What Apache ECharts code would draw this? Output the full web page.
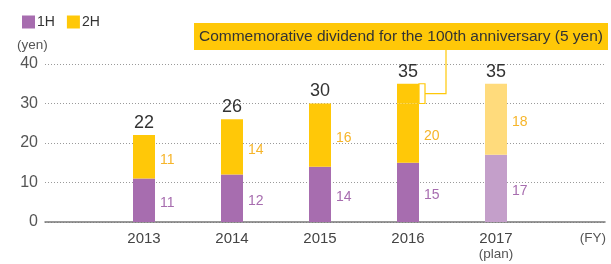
<!DOCTYPE html>
<html>
<head>
    <meta charset="utf-8" />
    <title>Dividends per share</title>
    <script src="https://cdn.jsdelivr.net/npm/echarts@6/dist/echarts.min.js"></script>
    <style>
        html, body { margin: 0; padding: 0; background: #fff; }
        #chart { width: 611px; height: 264px; }
    </style>
</head>
<body>
    <div id="chart"></div>
    <script>
        // data
        var years = ['2013', '2014', '2015', '2016', '2017'];
        var firstHalf = [11, 12, 14, 15, 17];
        var secondHalf = [11, 14, 16, 20, 18];
        var commemorative = [0, 0, 0, 5, 0];   // part of 2H in 2016
        var totals = [22, 26, 30, 35, 35];
        var yTicks = [0, 10, 20, 30, 40];
        var planIndex = 4;

        var purple = '#a76daf', purpleLight = '#c49fca';
        var yellow = '#ffc808', yellowLight = '#ffdb7c';
        var font = 'Liberation Sans, Arial, sans-serif';

        // regular part of 2H (commemorative part is stacked on top)
        var secondRegular = secondHalf.map(function (v, i) { return v - commemorative[i]; });

        function items(arr, normal, light) {
            return arr.map(function (v, i) {
                return { value: v, itemStyle: { color: i === planIndex ? light : normal } };
            });
        }

        var chart = echarts.init(document.getElementById('chart'));
        var option = {
            animation: false,
            textStyle: { fontFamily: font },
            legend: {
                left: 17, top: 10, itemWidth: 13, itemHeight: 13, itemGap: 12,
                icon: 'rect',
                textStyle: { fontSize: 14, color: '#333', padding: [0, 0, 0, -3] },
                data: [{ name: '1H', itemStyle: { color: purple } }, { name: '2H', itemStyle: { color: yellow } }]
            },
            grid: [
                { left: 45, right: 6, top: 64, bottom: 42 },
                { left: 100, width: 440, top: 64, bottom: 42 }
            ],
            xAxis: [
                {
                    gridIndex: 0, type: 'value', min: 0, max: 1,
                    axisLine: { show: true, onZero: false, lineStyle: { color: '#777', width: 1.5 } },
                    axisTick: { show: false }, axisLabel: { show: false }, splitLine: { show: false }
                },
                {
                    gridIndex: 1, type: 'category', data: years,
                    axisLine: { show: false }, axisTick: { show: false },
                    axisLabel: {
                        margin: 8, fontSize: 15, color: '#444', lineHeight: 17,
                        formatter: function (v, i) { return i === planIndex ? v + '\n{p|(plan)}' : v; },
                        rich: { p: { fontSize: 13.5, color: '#555', lineHeight: 15 } }
                    }
                }
            ],
            yAxis: [
                {
                    gridIndex: 0, type: 'value', min: yTicks[0], max: yTicks[yTicks.length - 1], interval: 10,
                    axisLine: { show: false }, axisTick: { show: false },
                    axisLabel: { margin: 7, fontSize: 16, color: '#555' },
                    splitLine: { lineStyle: { color: '#9a9a9a', type: [1, 2], width: 1 } }
                },
                {
                    gridIndex: 1, type: 'value', min: yTicks[0], max: yTicks[yTicks.length - 1],
                    show: false, splitLine: { show: false }
                }
            ],
            series: [
                {
                    name: '1H', type: 'bar', stack: 'd', xAxisIndex: 1, yAxisIndex: 1, barWidth: 22,
                    data: items(firstHalf, purple, purpleLight),
                    label: {
                        show: true, position: 'right', distance: 5, offset: [0, 3],
                        fontSize: 14, color: purple
                    }
                },
                {
                    name: '2H', type: 'bar', stack: 'd', xAxisIndex: 1, yAxisIndex: 1, barWidth: 22,
                    data: items(secondRegular, yellow, yellowLight),
                    label: {
                        show: true, position: 'right', distance: 5, offset: [0, 3],
                        fontSize: 14, color: '#f6b52a',
                        formatter: function (p) { return secondHalf[p.dataIndex]; }
                    }
                },
                {
                    name: 'commemorative', type: 'bar', stack: 'd', xAxisIndex: 1, yAxisIndex: 1, barWidth: 22,
                    data: items(commemorative, yellow, yellowLight)
                },
                {
                    name: 'total', type: 'bar', stack: 'd', xAxisIndex: 1, yAxisIndex: 1, barWidth: 22,
                    data: totals.map(function () { return 0; }),
                    label: {
                        show: true, position: 'top', distance: 3, fontSize: 18, color: '#333',
                        formatter: function (p) { return totals[p.dataIndex]; }
                    }
                }
            ]
        };
        chart.setOption(option);

        // bracket for the commemorative part and its callout
        var ci = commemorative.findIndex(function (v) { return v > 0; });
        var base = secondHalf[ci] - commemorative[ci] + firstHalf[ci];
        var pLow = chart.convertToPixel({ xAxisIndex: 1, yAxisIndex: 1 }, [ci, base]);
        var pHigh = chart.convertToPixel({ xAxisIndex: 1, yAxisIndex: 1 }, [ci, totals[ci]]);
        var x0 = pLow[0] + 11, x1 = x0 + 6, ym = (pLow[1] + pHigh[1]) / 2;
        var boxBottom = 50;

        chart.setOption({
            graphic: [
                {
                    type: 'rect', shape: { x: x0, y: pHigh[1], width: 6, height: pLow[1] - pHigh[1] },
                    style: { fill: '#fff', stroke: yellow, lineWidth: 1.2 }
                },
                {
                    type: 'polyline', shape: { points: [[x1, ym], [x1 + 21, ym], [x1 + 21, boxBottom]] },
                    style: { stroke: yellow, lineWidth: 1.2, fill: null }
                },
                {
                    type: 'rect', shape: { x: 194, y: 23, width: 414, height: 27 },
                    style: { fill: yellow }
                },
                {
                    type: 'text', x: 401, y: 37,
                    style: {
                        text: 'Commemorative dividend for the 100th anniversary (5 yen)',
                        fill: '#333', font: '15.5px ' + font, align: 'center', verticalAlign: 'middle'
                    }
                },
                {
                    type: 'text', x: 17, y: 45,
                    style: { text: '(yen)', fill: '#555', font: '13.5px ' + font, verticalAlign: 'middle' }
                },
                {
                    type: 'text', x: 606, y: 238,
                    style: { text: '(FY)', fill: '#555', font: '13.5px ' + font, align: 'right', verticalAlign: 'middle' }
                }
            ]
        });
    </script>
</body>
</html>
